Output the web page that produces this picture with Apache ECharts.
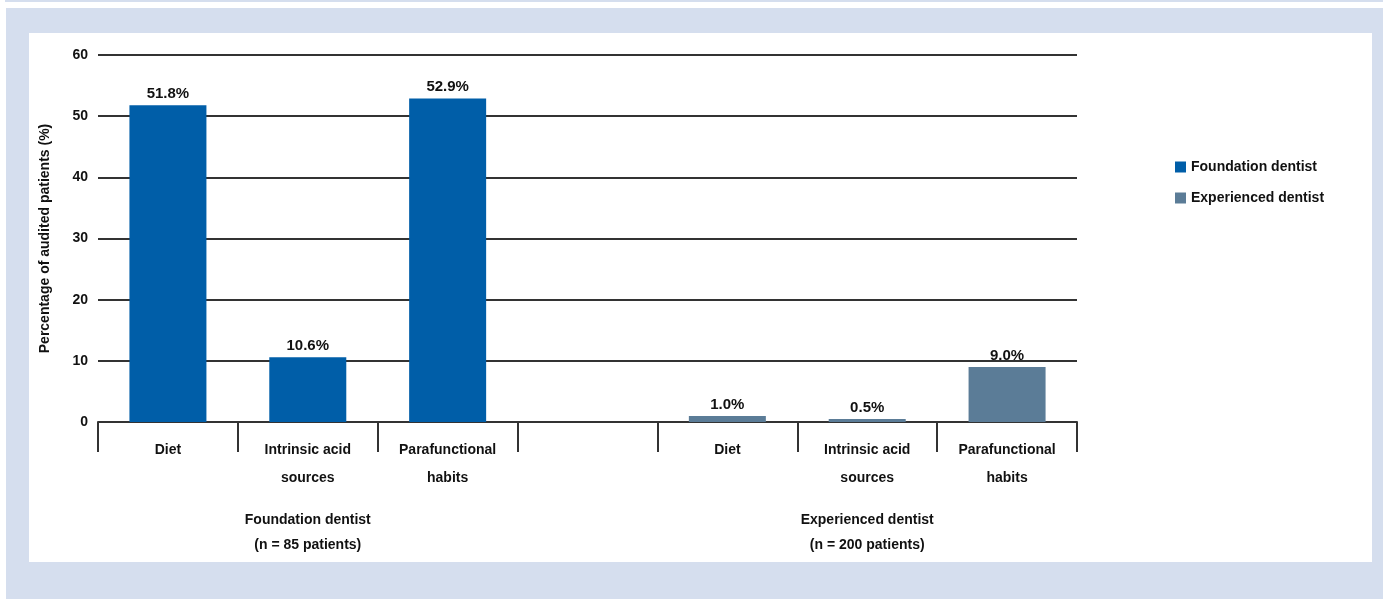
<!DOCTYPE html>
<html>
<head>
<meta charset="utf-8">
<script src="https://cdn.jsdelivr.net/npm/echarts@6/dist/echarts.min.js"></script>
<style>
html,body{margin:0;padding:0;background:#fff;width:1387px;height:599px;overflow:hidden;}
#strip{position:absolute;left:5px;top:0;width:1378px;height:2px;background:#d5deee;}
#panel{position:absolute;left:6px;top:8px;width:1377px;height:591px;background:#d5deee;}
#inner{position:absolute;left:29px;top:33px;width:1343px;height:529px;background:#fff;}
#chart{position:absolute;left:0;top:0;width:1387px;height:599px;}
</style>
</head>
<body>
<div id="strip"></div>
<div id="panel"></div>
<div id="inner"></div>
<div id="chart"></div>
<script>
const categories = ['Diet', 'Intrinsic acid\nsources', 'Parafunctional\nhabits', '', 'Diet', 'Intrinsic acid\nsources', 'Parafunctional\nhabits'];
const groupLabels = ['', 'Foundation dentist\n(n = 85 patients)', '', '', '', 'Experienced dentist\n(n = 200 patients)', ''];
const foundationValues = [51.8, 10.6, 52.9, '-', '-', '-', '-'];
const experiencedValues = ['-', '-', '-', '-', 1.0, 0.5, 9.0];
const seriesNames = ['Foundation dentist', 'Experienced dentist'];
const yAxisName = 'Percentage of audited patients (%)';

const FONT = '"Liberation Sans Narrow", "Liberation Sans", Arial, sans-serif';
const chart = echarts.init(document.getElementById('chart'), null, {renderer: 'canvas'});
const labelStyle = {
  show: true, position: 'top', distance: 4,
  formatter: p => p.value.toFixed(1) + '%',
  color: '#111', fontWeight: 'bold', fontSize: 15, fontFamily: FONT
};
chart.setOption({
  backgroundColor: 'transparent',
  animation: false,
  textStyle: {fontFamily: FONT},
  grid: {left: 98, right: 310, top: 55, bottom: 177, containLabel: false},
  legend: {
    orient: 'vertical', left: 1170, top: 155, itemWidth: 11, itemHeight: 11, itemGap: 17,
    icon: 'rect',
    textStyle: {fontSize: 14, fontWeight: 'bold', color: '#111', fontFamily: FONT},
    data: seriesNames
  },
  xAxis: [{
    type: 'category', data: categories, position: 'bottom',
    axisLine: {lineStyle: {color: '#333', width: 2}},
    axisTick: {show: true, length: 30, interval: 0, lineStyle: {color: '#333', width: 2}},
    axisLabel: {interval: 0, margin: 14, lineHeight: 28, fontSize: 14, fontWeight: 'bold', color: '#111', fontFamily: FONT}
  }, {
    type: 'category', data: groupLabels, position: 'bottom',
    axisLine: {show: false}, axisTick: {show: false},
    axisLabel: {interval: 0, margin: 86, lineHeight: 25, fontSize: 14, fontWeight: 'bold', color: '#111', fontFamily: FONT}
  }],
  yAxis: {
    type: 'value', min: 0, max: 60, interval: 10,
    name: yAxisName, nameLocation: 'middle', nameGap: 46, nameRotate: 90,
    nameTextStyle: {fontSize: 14, fontWeight: 'bold', color: '#111', fontFamily: FONT},
    axisLine: {show: false}, axisTick: {show: false},
    axisLabel: {margin: 10, fontSize: 14, fontWeight: 'bold', color: '#111', fontFamily: FONT},
    splitLine: {lineStyle: {color: '#333', width: 2}}
  },
  series: [{
    name: seriesNames[0], type: 'bar', data: foundationValues, barWidth: 77, barGap: '-100%',
    itemStyle: {color: '#005ea8'}, label: labelStyle, z: 3
  }, {
    name: seriesNames[1], type: 'bar', data: experiencedValues, barWidth: 77,
    itemStyle: {color: '#5b7c97'}, label: labelStyle, z: 3
  }]
});
</script>
</body>
</html>
